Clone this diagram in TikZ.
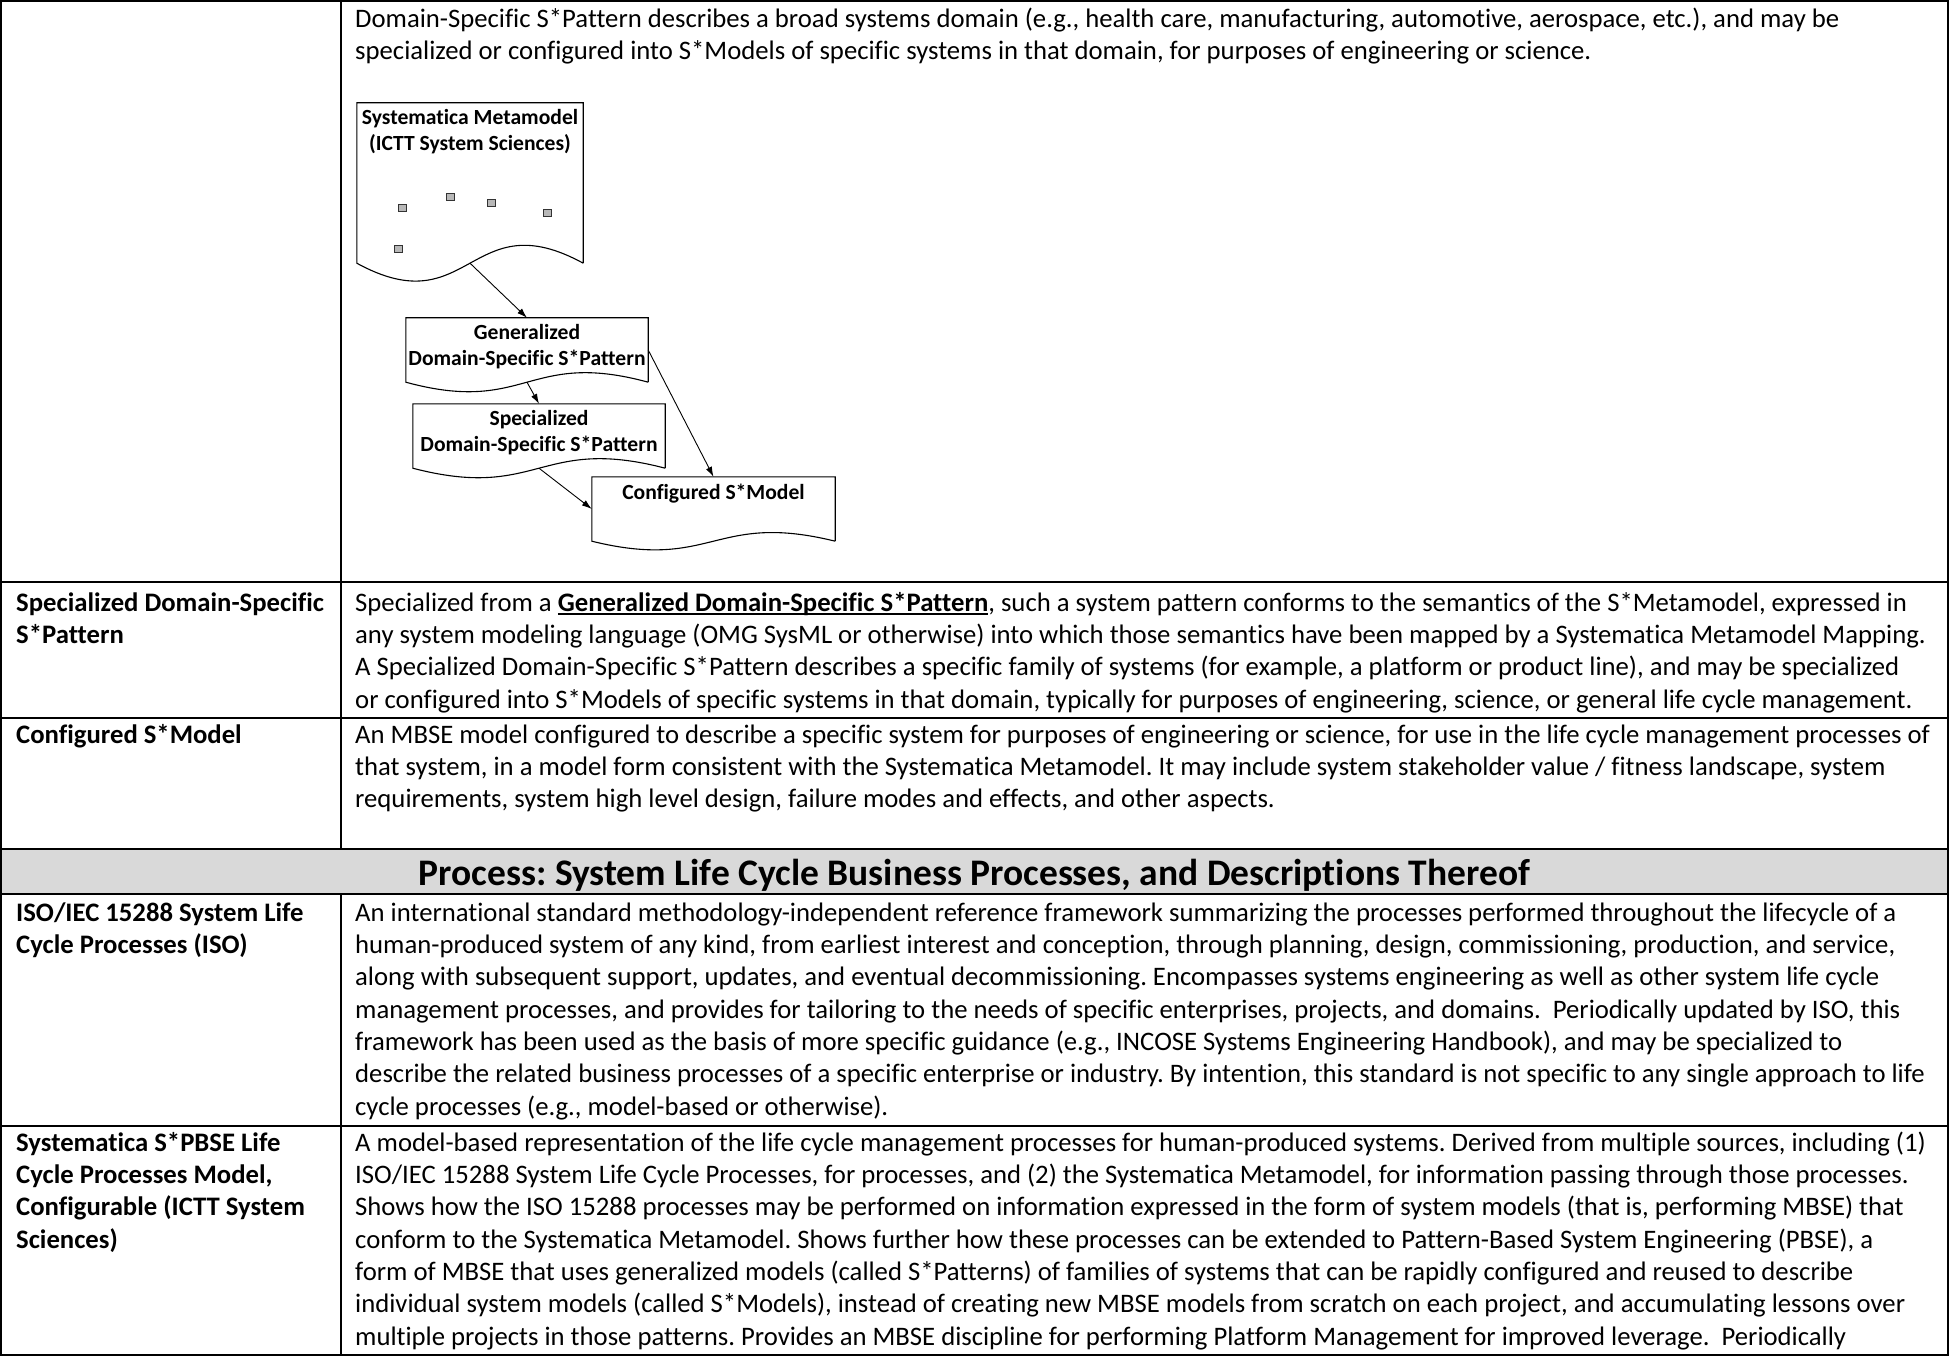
\documentclass[tikz,border=0pt]{standalone}
\usepackage{fontspec}
\setmainfont{Carlito}[Ligatures=NoCommon]
\usetikzlibrary{calc, arrows.meta}
\definecolor{headgray}{HTML}{D9D9D9}
\newcommand\ulbold[1]{\setbox0\hbox{\bfseries #1}\rlap{\rule[-4pt]{\wd0}{1.8pt}}\box0}
\frenchspacing

\begin{document}
\begin{tikzpicture}[x=1pt, y=-1pt,
  grid/.style={line width=1.6pt},
  celltext/.style={anchor=north west, inner sep=0pt, align=left,
    font=\fontsize{26.7}{32.3}\selectfont},
  termtext/.style={celltext, font=\fontsize{26.7}{32.3}\selectfont\bfseries},
  headtext/.style={anchor=base, inner sep=0pt, font=\fontsize{37.5}{44}\selectfont\bfseries},
  docbox/.style={rectangle, inner sep=0pt},
  doctext/.style={anchor=north, inner sep=0pt, align=center,
    font=\fontsize{21.6}{26}\selectfont\bfseries},
  docline/.style={line width=1.1pt},
  modelbit/.style={fill=black!28, draw=black!80, line width=0.8pt},
  flow/.style={line width=0.9pt, -{Latex[length=10pt,width=6.5pt]}}]
  \useasboundingbox (0,0) rectangle (1949,1356);
  % table frame
  \fill[headgray] (0,849) rectangle (1949,894);
  \draw[grid] (1,1) rectangle (1948,1355);
  \draw[grid] (341,1) -- (341,849);
  \draw[grid] (341,894) -- (341,1355);
  \foreach \y in {582,718,849,894,1126} \draw[grid] (1,\y) -- (1948,\y);
  % first row (continued)
  \node[celltext] (patterndef) at (355,4.4) {\strut Domain-Specific S*Pattern describes a broad systems domain (e.g., health care, manufacturing, automotive, aerospace, etc.), and may be\\
    specialized or configured into S*Models of specific systems in that domain, for purposes of engineering or science.};
  % pattern diagram
  \node[docbox, minimum width=226pt, minimum height=160pt] (meta) at (470,183) {};
  \node[docbox, minimum width=242pt, minimum height=64pt] (gen) at (527,350) {};
  \node[docbox, minimum width=252pt, minimum height=64pt] (spec) at (539,436) {};
  \node[docbox, minimum width=243pt, minimum height=64pt] (conf) at (713.5,509) {};
  \foreach \n/\a in {meta/62, gen/33, spec/33, conf/30}
    \draw[docline] (\n.south east) -- (\n.north east) -- (\n.north west) -- (\n.south west)
      .. controls ($(\n.south)+(0,\a)$) and ($(\n.south)+(0,-\a)$) .. (\n.south east);
  \node[doctext] (metalabel) at ($(meta.north)+(0,3.8)$) {\strut Systematica Metamodel\\(ICTT System Sciences)};
  \node[doctext] (genlabel) at ($(gen.north)+(0,3.3)$) {\strut Generalized\\Domain-Specific S*Pattern};
  \node[doctext] (speclabel) at ($(spec.north)+(0,3.3)$) {\strut Specialized\\Domain-Specific S*Pattern};
  \node[doctext] (conflabel) at ($(conf.north)+(0,4.3)$) {\strut Configured S*Model};
  \foreach \p in {(402,208),(450,197),(491,203),(547,213),(398,249)}
    \draw[modelbit] \p ++(-4,-3.5) rectangle ++(8,7);
  \draw[flow] (meta.south) -- (gen.north);
  \draw[flow] (gen.south) -- (spec.north);
  \draw[flow] (gen.east) -- (conf.north);
  \draw[flow] (spec.south) -- (conf.west);
  % specialized pattern row
  \node[termtext] (specterm) at (16,588.4) {\strut Specialized Domain-Specific\\S*Pattern};
  \node[celltext] (specdef) at (355,588.4) {\strut Specialized from a \ulbold{Generalized Domain-Specific S*Pattern}, such a system pattern conforms to the semantics of the S*Metamodel, expressed in\\
    any system modeling language (OMG SysML or otherwise) into which those semantics have been mapped by a Systematica Metamodel Mapping.\\
    A Specialized Domain-Specific S*Pattern describes a specific family of systems (for example, a platform or product line), and may be specialized\\
    or configured into S*Models of specific systems in that domain, typically for purposes of engineering, science, or general life cycle management.};
  % configured model row
  \node[termtext] (confterm) at (16,720.4) {\strut Configured S*Model};
  \node[celltext] (confdef) at (355,720.4) {\strut An MBSE model configured to describe a specific system for purposes of engineering or science, for use in the life cycle management processes of\\
    that system, in a model form consistent with the Systematica Metamodel. It may include system stakeholder value / fitness landscape, system\\
    requirements, system high level design, failure modes and effects, and other aspects.};
  % section header
  \node[headtext] (processhead) at (974.5,885) {Process: System Life Cycle Business Processes, and Descriptions Thereof};
  % ISO row
  \node[termtext] (isoterm) at (16,898.4) {\strut ISO/IEC 15288 System Life\\Cycle Processes (ISO)};
  \node[celltext] (isodef) at (355,898.4) {\strut An international standard methodology-independent reference framework summarizing the processes performed throughout the lifecycle of a\\
    human-produced system of any kind, from earliest interest and conception, through planning, design, commissioning, production, and service,\\
    along with subsequent support, updates, and eventual decommissioning. Encompasses systems engineering as well as other system life cycle\\
    management processes, and provides for tailoring to the needs of specific enterprises, projects, and domains.~ Periodically updated by ISO, this\\
    framework has been used as the basis of more specific guidance (e.g., INCOSE Systems Engineering Handbook), and may be specialized to\\
    describe the related business processes of a specific enterprise or industry. By intention, this standard is not specific to any single approach to life\\
    cycle processes (e.g., model-based or otherwise).};
  % Systematica row
  \node[termtext] (pbseterm) at (16,1128.4) {\strut Systematica S*PBSE Life\\Cycle Processes Model,\\Configurable (ICTT System\\Sciences)};
  \node[celltext] (pbsedef) at (355,1128.4) {\strut A model-based representation of the life cycle management processes for human-produced systems. Derived from multiple sources, including (1)\\
    ISO/IEC 15288 System Life Cycle Processes, for processes, and (2) the Systematica Metamodel, for information passing through those processes.\\
    Shows how the ISO 15288 processes may be performed on information expressed in the form of system models (that is, performing MBSE) that\\
    conform to the Systematica Metamodel. Shows further how these processes can be extended to Pattern-Based System Engineering (PBSE), a\\
    form of MBSE that uses generalized models (called S*Patterns) of families of systems that can be rapidly configured and reused to describe\\
    individual system models (called S*Models), instead of creating new MBSE models from scratch on each project, and accumulating lessons over\\
    multiple projects in those patterns. Provides an MBSE discipline for performing Platform Management for improved leverage.~ Periodically};
\end{tikzpicture}
\end{document}
